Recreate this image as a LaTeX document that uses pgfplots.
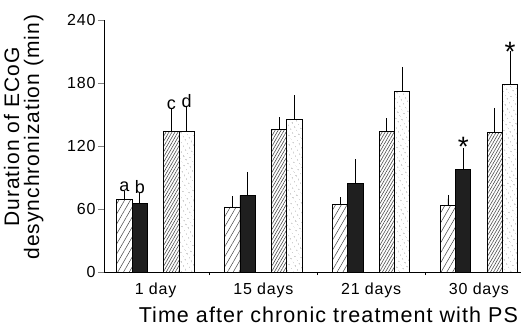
\documentclass[border=0pt]{standalone}
\usepackage{fontspec}
\setmainfont[LetterSpace=5]{Liberation Sans}
\usepackage{pgfplots}
\pgfplotsset{compat=1.18}
\usetikzlibrary{patterns.meta}
\begin{document}
\begin{tikzpicture}
\begin{axis}[
  width=417pt, height=252pt, scale only axis,
  xmin=-0.478, xmax=3.39, ymin=0, ymax=240,
  axis x line*=bottom, axis y line*=left,
  axis line style={line width=0.9pt},
  ytick={0,60,120,180,240},
  xtick={0,1,2,3},
  xticklabels={1 day,15 days,21 days,30 days},
  x tick style={draw=none},
  y tick style={line width=0.8pt},
  tick align=outside, major tick length=6pt,
  extra x ticks={0.5,1.5,2.5}, extra x tick labels={},
  extra x tick style={x tick style={draw=black,line width=0.8pt}, major tick length=3pt},
  /pgf/number format/assume math mode=true,
  ticklabel style={font=\fontsize{16}{19}\selectfont},
  yticklabel style={xshift=1pt},
  xticklabel style={anchor=base, yshift=-16pt},
  ylabel={Duration of ECoG\\desynchronization (min)},
  ylabel style={align=center, font=\fontsize{21}{20}\selectfont, at={(rel axis cs:0,0.535)}, anchor=south, yshift=57pt},
  xlabel={Time after chronic treatment with PS},
  xlabel style={font=\fontsize{21.5}{24}\selectfont, at={(rel axis cs:0.538,0)}, anchor=base, yshift=-50pt},
  ybar, bar width=0.142,
  error bars/y dir=plus, error bars/y explicit,
  error bars/error bar style={line width=0.8pt, black},
  error bars/error mark options={line width=0.8pt, mark size=3.5pt, black},
  clip=false,
]
\coordinate (O) at (rel axis cs:0,0);
% a
\addplot[bar shift=-0.288, draw=black, line width=0.8pt, pattern={Lines[angle=60,distance=5pt,line width=0.5pt]}, pattern color=black!75]
 coordinates {(0,69) +- (0,5) (1,62) +- (0,7) (2,64) +- (0,4) (3,63) +- (0,7)};
% b
\addplot[bar shift=-0.146, draw=black, line width=0.8pt, fill=black!88]
 coordinates {(0,65) +- (0,7) (1,73) +- (0,19) (2,84) +- (0,20) (3,98) +- (0,17)};
% c
\addplot[bar shift=0.146, draw=black, line width=0.8pt, pattern={Lines[angle=60,distance=2.6pt,line width=0.6pt]}, pattern color=black!70]
 coordinates {(0,134) +- (0,18) (1,136) +- (0,8) (2,134) +- (0,9) (3,133) +- (0,20)};
% d
\addplot[bar shift=0.288, draw=black, line width=0.8pt, pattern={Dots[distance=4pt,radius=0.5pt,angle=30]}, pattern color=black!70]
 coordinates {(0,134) +- (0,20) (1,145) +- (0,20) (2,172) +- (0,20) (3,179) +- (0,28)};
\node[anchor=south, font=\fontsize{18}{20}\selectfont, inner sep=1pt] at (axis cs:-0.288,75) {a};
\node[anchor=south, font=\fontsize{18}{20}\selectfont, inner sep=1pt] at (axis cs:-0.146,73) {b};
\node[anchor=south, font=\fontsize{18}{20}\selectfont, inner sep=1pt] at (axis cs:0.146,153) {c};
\node[anchor=south, font=\fontsize{18}{20}\selectfont, inner sep=1pt] at (axis cs:0.288,155) {d};
\node[anchor=base, font=\fontsize{28}{30}\selectfont, inner sep=0pt] at (axis cs:2.854,110) {*};
\node[anchor=base, font=\fontsize{28}{30}\selectfont, inner sep=0pt] at (axis cs:3.288,200) {*};
\end{axis}
\pgfresetboundingbox
\path ([shift={(-104pt,-54pt)}]O) rectangle ([shift={(417pt,272pt)}]O);
\end{tikzpicture}
\end{document}
